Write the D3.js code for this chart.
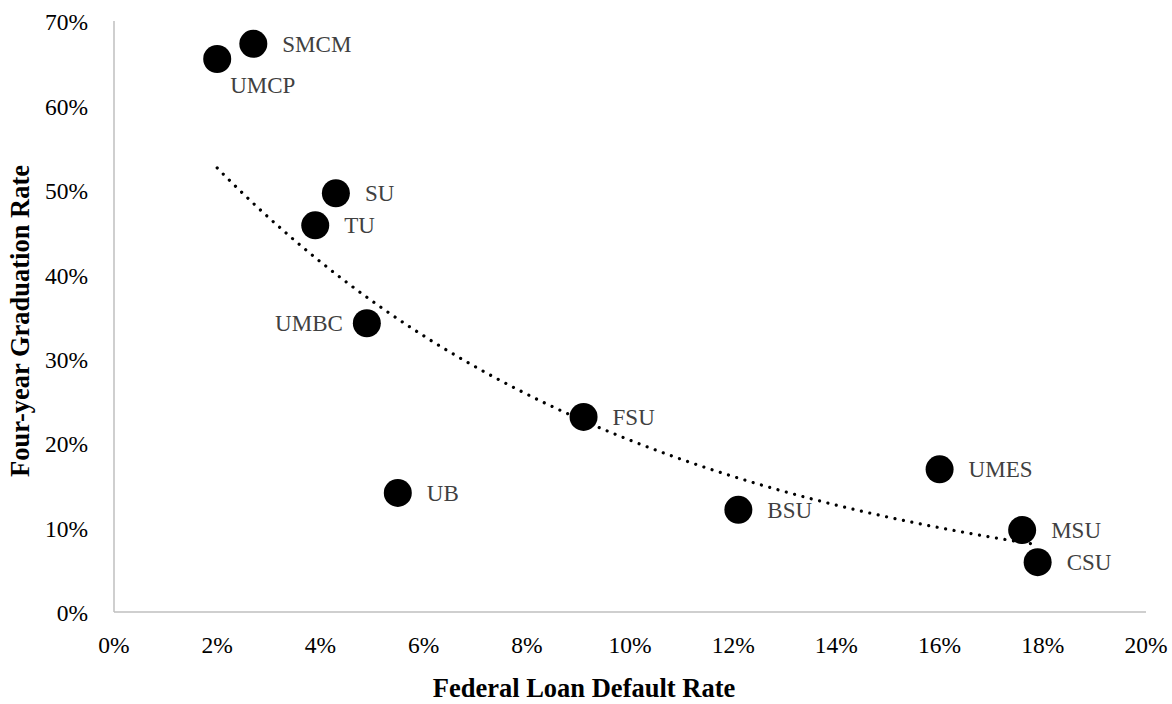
<!DOCTYPE html>
<html><head><meta charset="utf-8">
<script src="https://cdn.jsdelivr.net/npm/d3@7"></script>
<style>body{margin:0;background:#fff}</style>
</head><body>
<svg id="chart" width="1172" height="704"></svg>
<script>
const schools = ["UMCP","SMCM","SU","TU","UMBC","FSU","UB","BSU","UMES","MSU","CSU"];
const defaultRate = [0.020,0.027,0.043,0.039,0.049,0.091,0.055,0.121,0.160,0.176,0.179];
const gradRate = [0.655,0.673,0.496,0.458,0.342,0.231,0.141,0.121,0.169,0.097,0.059];
const labelPos = ["below","right","right","right","left","right","right","right","right","right","right"];
const xTicks = [0,0.02,0.04,0.06,0.08,0.10,0.12,0.14,0.16,0.18,0.20];
const yTicks = [0,0.1,0.2,0.3,0.4,0.5,0.6,0.7];

const svg = d3.select("#chart");
const pL=114, pR=1146, pT=21, pB=612;
const x = d3.scaleLinear().domain([0,0.2]).range([pL,pR]);
const y = d3.scaleLinear().domain([0,0.7]).range([pB,pT]);
const fmt = d3.format(".0%");
const font = "'Liberation Serif','Times New Roman',serif";

// axes lines
svg.append("line").attr("x1",pL).attr("x2",pL).attr("y1",pT).attr("y2",pB).attr("stroke","#bfbfbf").attr("stroke-width",1.5);
svg.append("line").attr("x1",pL).attr("x2",pR).attr("y1",pB).attr("y2",pB).attr("stroke","#bfbfbf").attr("stroke-width",1.5);

// tick labels
svg.selectAll(".yt").data(yTicks).enter().append("text")
  .attr("x",88).attr("y",d=>y(d)+1).attr("dy","0.35em").attr("text-anchor","end")
  .style("font-family",font).style("font-size","23.5px").attr("fill","#000").text(fmt);
svg.selectAll(".xt").data(xTicks).enter().append("text")
  .attr("x",d=>x(d)).attr("y",645).attr("dy","0.35em").attr("text-anchor","middle")
  .style("font-family",font).style("font-size","23.5px").attr("fill","#000").text(fmt);

// axis titles
svg.append("text").attr("x",584).attr("y",697).attr("text-anchor","middle")
  .style("font-family",font).style("font-size","26.5px").style("font-weight","bold").text("Federal Loan Default Rate");
svg.append("text").attr("transform","translate(29,321) rotate(-90)").attr("text-anchor","middle")
  .style("font-family",font).style("font-size","26.5px").style("font-weight","bold").text("Four-year Graduation Rate");

// exponential trendline (least squares on ln y)
const n = defaultRate.length;
const ly = gradRate.map(Math.log);
const mx = d3.mean(defaultRate), my = d3.mean(ly);
let sxy=0,sxx=0;
for(let i=0;i<n;i++){sxy+=(defaultRate[i]-mx)*(ly[i]-my);sxx+=(defaultRate[i]-mx)**2;}
const b = sxy/sxx, lna = my - b*mx;
const x0 = d3.min(defaultRate), x1 = d3.max(defaultRate);
const trend = d3.range(0,101).map(i=>{const xv=x0+(x1-x0)*i/100;return [xv,Math.exp(lna+b*xv)];});
svg.append("path").datum(trend)
  .attr("d",d3.line().x(d=>x(d[0])).y(d=>y(d[1])))
  .attr("fill","none").attr("stroke","#000").attr("stroke-width",3.2)
  .attr("stroke-linecap","round").attr("stroke-dasharray","0.01 8.6");

// points
const pts = schools.map((s,i)=>({s,x:defaultRate[i],y:gradRate[i],pos:labelPos[i]}));
svg.selectAll(".pt").data(pts).enter().append("circle")
  .attr("cx",d=>x(d.x)).attr("cy",d=>y(d.y)).attr("r",14).attr("fill","#000");

// labels
svg.selectAll(".lb").data(pts).enter().append("text")
  .attr("x",d=>d.pos==="right"?x(d.x)+29:d.pos==="left"?x(d.x)-24:x(d.x)+13)
  .attr("y",d=>d.pos==="below"?y(d.y)+26:y(d.y))
  .attr("dy","0.35em")
  .attr("text-anchor",d=>d.pos==="left"?"end":"start")
  .style("font-family",font).style("font-size","23px").attr("fill","#404040").text(d=>d.s);
</script>
</body></html>
